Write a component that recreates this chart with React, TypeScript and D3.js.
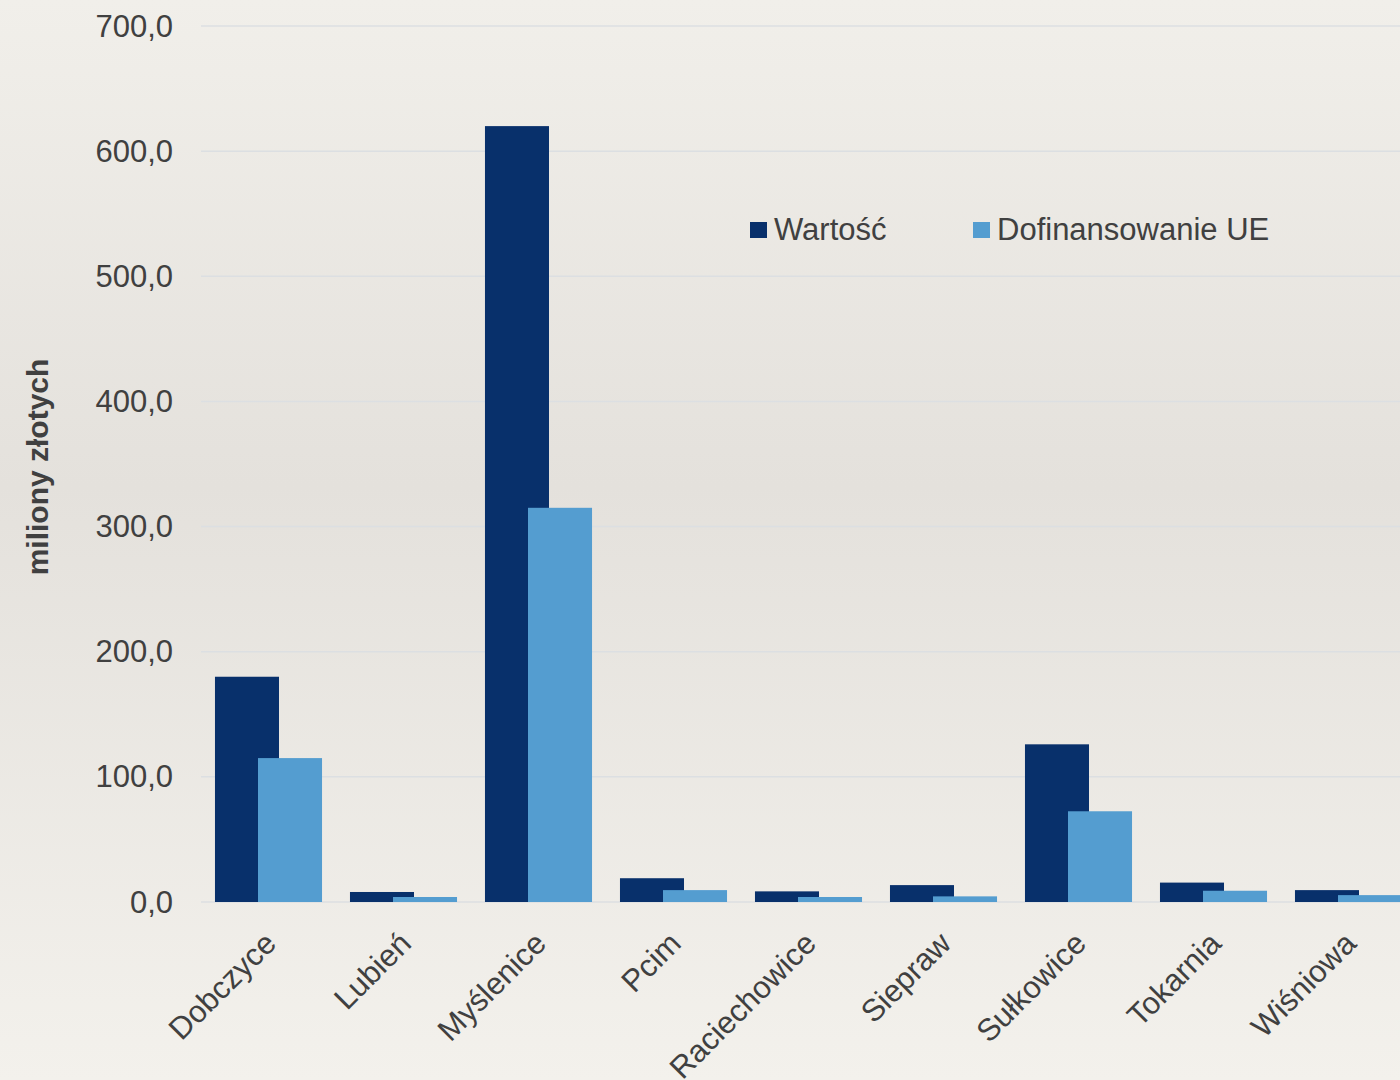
import { useEffect, useRef } from 'react'
import * as d3 from 'd3'

const categories = ['Dobczyce', 'Lubień', 'Myślenice', 'Pcim', 'Raciechowice', 'Siepraw', 'Sułkowice', 'Tokarnia', 'Wiśniowa']
const wartosc = [180, 8, 620, 19, 8.5, 13.5, 126, 15.5, 9.5]
const dofinansowanie = [115, 4, 315, 9.5, 4, 4.5, 72.5, 9, 5.5]
const seriesNames = ['Wartość', 'Dofinansowanie UE']
const yTicks = [0, 100, 200, 300, 400, 500, 600, 700]

const WIDTH = 1400
const HEIGHT = 1080
const FONT = 'Liberation Sans, Arial, Helvetica, sans-serif'
const TEXT = '#404040'
const COLORS = ['#08306b', '#549dd0']

export default function App() {
  const svgRef = useRef<SVGSVGElement>(null)

  useEffect(() => {
    document.body.style.margin = '0'
    if (!svgRef.current) return
    const svg = d3.select(svgRef.current)
    svg.selectAll('*').remove()

    const margin = { top: 26, left: 201, bottom: 178 }
    const plotBottom = HEIGHT - margin.bottom

    // Background paper tone
    const defs = svg.append('defs')
    const grad = defs
      .append('linearGradient')
      .attr('id', 'bg')
      .attr('x1', 0)
      .attr('y1', 0)
      .attr('x2', 0)
      .attr('y2', 1)
    grad.append('stop').attr('offset', '0%').attr('stop-color', '#f1efea')
    grad.append('stop').attr('offset', '45%').attr('stop-color', '#e4e1dc')
    grad.append('stop').attr('offset', '100%').attr('stop-color', '#f3f1ec')
    svg.append('rect').attr('width', WIDTH).attr('height', HEIGHT).attr('fill', 'url(#bg)')

    const y = d3.scaleLinear().domain([0, 700]).range([plotBottom, margin.top])

    const x0 = d3
      .scaleBand<string>()
      .domain(categories)
      .range([margin.left, margin.left + 135 * categories.length])
      .paddingInner(0.207)
      .paddingOuter(0.1035)

    const bw = x0.bandwidth()
    const barW = (bw * 64) / 107
    const barStep = (bw * 43) / 107

    // Grid lines
    svg
      .append('g')
      .selectAll('line')
      .data(yTicks)
      .enter()
      .append('line')
      .attr('x1', margin.left)
      .attr('x2', WIDTH)
      .attr('y1', (d) => y(d))
      .attr('y2', (d) => y(d))
      .attr('stroke', '#dcdfe2')
      .attr('stroke-width', 1.5)

    // Y tick labels
    svg
      .append('g')
      .selectAll('text')
      .data(yTicks)
      .enter()
      .append('text')
      .attr('x', 173)
      .attr('y', (d) => y(d))
      .attr('text-anchor', 'end')
      .attr('dominant-baseline', 'central')
      .attr('fill', TEXT)
      .attr('font-family', FONT)
      .attr('font-size', '31px')
      .text((d) => d3.format('.1f')(d).replace('.', ','))

    // Y axis title
    svg
      .append('text')
      .attr('transform', `translate(48, 467) rotate(-90)`)
      .attr('text-anchor', 'middle')
      .attr('fill', TEXT)
      .attr('font-family', FONT)
      .attr('font-size', '30px')
      .attr('font-weight', 'bold')
      .text('miliony złotych')

    // Bars
    const series = [wartosc, dofinansowanie]
    series.forEach((values, si) => {
      svg
        .append('g')
        .selectAll('rect')
        .data(values)
        .enter()
        .append('rect')
        .attr('x', (_, i) => (x0(categories[i]) || 0) + si * barStep)
        .attr('y', (d) => y(d))
        .attr('width', barW)
        .attr('height', (d) => plotBottom - y(d))
        .attr('fill', COLORS[si])
    })

    // Category labels
    svg
      .append('g')
      .selectAll('text')
      .data(categories)
      .enter()
      .append('text')
      .attr('transform', (d) => `translate(${(x0(d) || 0) + bw / 2 - 6}, ${plotBottom + 28}) rotate(-45)`)
      .attr('text-anchor', 'end')
      .attr('dy', '0.7em')
      .attr('fill', TEXT)
      .attr('font-family', FONT)
      .attr('font-size', '31px')
      .text((d) => d)

    // Legend
    const legendX = [750, 973]
    const legend = svg.append('g')
    seriesNames.forEach((name, i) => {
      legend
        .append('rect')
        .attr('x', legendX[i])
        .attr('y', 222)
        .attr('width', 17)
        .attr('height', 16)
        .attr('fill', COLORS[i])
      legend
        .append('text')
        .attr('x', legendX[i] + 24)
        .attr('y', 240)
        .attr('fill', TEXT)
        .attr('font-family', FONT)
        .attr('font-size', '31px')
        .text(name)
    })
  }, [])

  return <svg ref={svgRef} width={WIDTH} height={HEIGHT} style={{ display: 'block' }} />
}
